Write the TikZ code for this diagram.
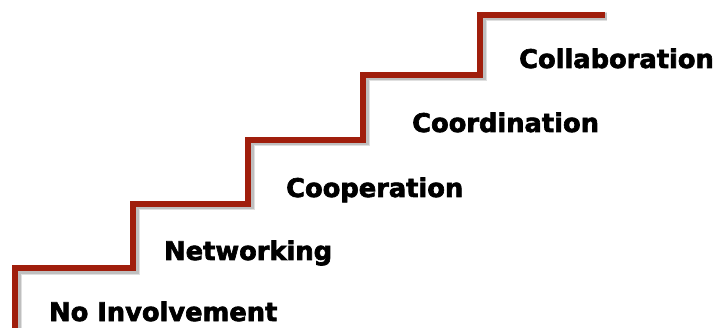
\documentclass[tikz,border=0pt]{standalone}
\usepackage{fontspec}
\setmainfont{DejaVu Sans}[BoldFeatures={FakeBold=2.5}]
\definecolor{stair}{RGB}{160,30,12}
\begin{document}
\begin{tikzpicture}[x=1pt,y=1pt,
  lab/.style={anchor=base west,inner sep=0pt,font=\fontsize{25.7}{28}\selectfont\bfseries},
  stairline/.style={line width=6.8pt,draw=stair,line join=miter}]
\useasboundingbox (0,0) rectangle (723,327);
\def\stairpath{(15,-5) -- (15,59) -- (133,59) -- (133,123) -- (248,123) -- (248,187) -- (363,187) -- (363,252) -- (480,252) -- (480,312) -- (605,312)}
\begin{scope}[shift={(2,-2)}]
\draw[line width=9pt,black,opacity=0.12] \stairpath;
\draw[line width=7pt,black,opacity=0.15] \stairpath;
\end{scope}
\draw[stairline] \stairpath;
\node[lab] (n0) at (49,6) {No Involvement};
\node[lab] (n1) at (164,67) {Networking};
\node[lab] (n2) at (286,130) {Cooperation};
\node[lab] (n3) at (412,195) {Coordination};
\node[lab] (n4) at (519,259) {Collaboration};
\end{tikzpicture}
\end{document}
